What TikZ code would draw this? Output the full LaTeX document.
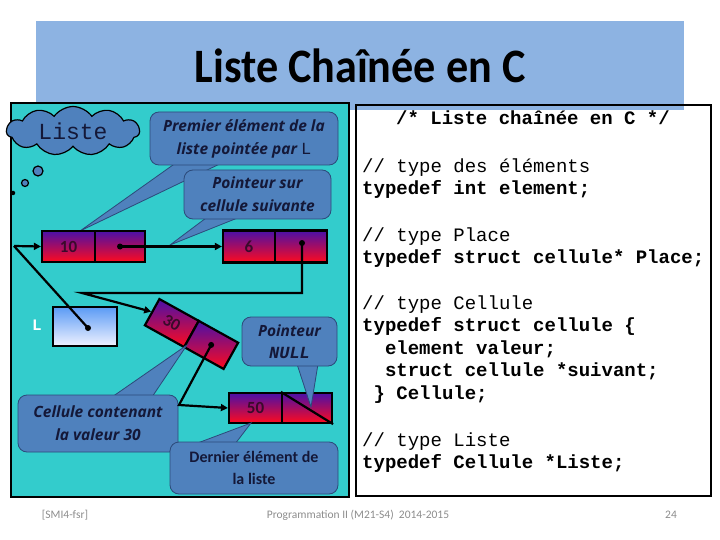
\documentclass[tikz,border=0pt]{standalone}
\usepackage{fontspec}
\usepackage{graphicx}
\setmainfont{Carlito}
\newfontfamily\calfont{Carlito}
\newfontfamily\callfont{Open Sans}
\setmonofont{Liberation Mono}
\usetikzlibrary{shapes.symbols,arrows.meta}
\definecolor{banner}{HTML}{8DB3E2}
\definecolor{panel}{HTML}{33CCCC}
\definecolor{callfill}{HTML}{4F81BD}
\definecolor{calldraw}{HTML}{2C4A7A}
\definecolor{calltext}{HTML}{141838}
\definecolor{celltop}{HTML}{4A10A8}
\definecolor{cellbot}{HTML}{FF0A1E}
\definecolor{celltext}{HTML}{3A0A2A}
\definecolor{footgray}{HTML}{8C8C8C}
\definecolor{Ltop}{HTML}{5B9BF5}
\definecolor{Lbot}{HTML}{F0F2FF}
\tikzset{
  cellbox/.style={draw=black, line width=2.2pt, top color=celltop, bottom color=cellbot,
    minimum height=31pt, inner sep=0pt, font=\calfont\bfseries\fontsize{17}{17}\selectfont, text=celltext},
  callout/.style={draw=calldraw, line width=0.8pt, fill=callfill, rounded corners=9pt,
    align=center, text=calltext, inner sep=0pt},
  itfont/.style={font=\callfont\bfseries\itshape\fontsize{15.5}{23}\selectfont},
  tail/.style={draw=calldraw, line width=0.8pt, fill=callfill},
  link/.style={line width=2.2pt, black},
  arr/.style={link, -{Triangle[length=7pt,width=7pt]}},
  ptdot/.style={circle, fill=black, inner sep=0pt, minimum size=6pt},
  codeline/.style={anchor=base west, inner sep=0pt, font=\ttfamily\fontsize{19}{19}\selectfont},
  codebold/.style={codeline, font=\ttfamily\bfseries\fontsize{19}{19}\selectfont},
  foot/.style={font=\calfont\fontsize{11.5}{11.5}\selectfont, text=footgray}
}
\begin{document}
\begin{tikzpicture}[x=1pt,y=1pt]
\useasboundingbox (0,0) rectangle (720,-540);
% banner and title
\fill[banner] (36,-21) rectangle (684,-110);
\node[font=\calfont\bfseries\fontsize{48}{48}\selectfont, inner sep=0pt] (title) at (360,-66)
  {\scalebox{0.92}[1]{Liste Chaînée en C}};
% right code box
\draw[line width=1.2pt] (356,-105) rectangle (711,-496);
% left panel
\draw[line width=2pt, fill=panel] (11,-103) rectangle (349,-497);

% cloud
\node[cloud, cloud puffs=11, cloud puff arc=110, aspect=2.7, draw=black, line width=1.2pt,
  fill=callfill, minimum width=133pt, minimum height=49pt, inner sep=0pt,
  font=\ttfamily\fontsize{23}{23}\selectfont, text=calltext] (cloud) at (73,-131) {Liste};
\node[circle, draw=black, line width=1.2pt, fill=callfill, minimum size=10pt, inner sep=0pt] (b1) at (38,-171) {};
\node[circle, draw=black, line width=1.2pt, fill=callfill, minimum size=7pt, inner sep=0pt] (b2) at (25,-183) {};
\node[circle, fill=black, minimum size=4.5pt, inner sep=0pt] (b3) at (13,-193) {};

% callout 1
\draw[tail] (180,-160) -- (80,-231) -- (228,-160) -- cycle;
\node[callout, itfont, minimum width=188pt, minimum height=53pt] (co1) at (244,-138.5)
  {Premier élément de la\\liste pointée par {\upshape\mdseries\ttfamily\fontsize{17}{17}\selectfont L}};
% callout 2
\draw[tail] (210,-215) -- (170,-245) -- (245,-215) -- cycle;
\node[callout, itfont, minimum width=147pt, minimum height=49pt] (co2) at (257.5,-194.5)
  {Pointeur sur\\cellule suivante};

% cells
\node[cellbox, minimum width=53pt] (c10v) at (68.5,-246.5) {10};
\node[cellbox, minimum width=50pt] (c10p) at (120,-246.5) {};
\node[cellbox, minimum width=52pt, minimum height=32pt] (c6v) at (249,-246.5) {6};
\node[cellbox, minimum width=52pt, minimum height=32pt] (c6p) at (301,-246.5) {};
\node[cellbox, minimum width=53pt, minimum height=30pt] (c50v) at (255.5,-408) {50};
\node[cellbox, minimum width=50pt, minimum height=30pt] (c50p) at (307,-408) {};
\draw[link] (c50p.north west) -- (c50p.south east);
\begin{scope}[shift={(191.5,-334)}, rotate=-29]
\node[cellbox, transform shape, minimum width=45pt, minimum height=30pt] (c30v) at (-22.5,0) {30};
\node[cellbox, transform shape, minimum width=45pt, minimum height=30pt] (c30p) at (22.5,0) {};
\end{scope}

% L box
\node[draw=black, line width=2pt, top color=Ltop, bottom color=Lbot, minimum width=64pt,
  minimum height=39pt, inner sep=0pt] (Lbox) at (85,-326.5) {};
\node[font=\ttfamily\bfseries\fontsize{16}{16}\selectfont, text=white, inner sep=0pt] (Llab) at (37,-325) {L};

% callout NULL
\draw[tail] (297,-364) -- (311,-407) -- (318,-364) -- cycle;
\node[callout, minimum width=95pt, minimum height=49pt, font=\callfont\bfseries\itshape\fontsize{15.5}{22}\selectfont] (co3) at (289.5,-341.5)
  {Pointeur\\{\ttfamily\bfseries\itshape\fontsize{17}{17}\selectfont NULL}};
% callout 4
\draw[tail] (112,-397) -- (187,-345) -- (152,-397) -- cycle;
\node[callout, itfont, minimum width=160pt, minimum height=57pt] (co4) at (98,-423.5)
  {Cellule contenant\\la valeur 30};
% callout 5
\draw[tail] (195,-444) -- (251,-423) -- (235,-444) -- cycle;
\node[callout, minimum width=168pt, minimum height=52pt, font=\calfont\bfseries\fontsize{16}{22}\selectfont] (co5) at (254,-468)
  {Dernier élément de\\la liste};

% pointer dots
\node[ptdot] (d10) at (c10p.center) {};
\node[ptdot] (d6) at (302,-243) {};
\node[ptdot] (d30) at (c30p.center) {};
\node[ptdot] (dL) at (88,-328) {};
\coordinate (jL) at (14,-246);
\coordinate (t6) at (82,-293);
\coordinate (k30) at (179,-405);

% links
\draw[arr] (d10.center) -- (c6v.west);
\draw[arr] (d6.center) |- (t6) -- (c30v.west);
\draw[arr] (d30.center) -- (k30) -- (c50v.west);
\draw[link] (dL.center) -- (jL);
\draw[arr] (jL) -- (c10v.west);

% code
\node[codebold, anchor=base] (l1) at (533,-125) {/* Liste chaînée en C */};
\node[codeline] (l2) at (362,-173) {// type des éléments};
\node[codebold] (l3) at (362,-195) {typedef int element;};
\node[codeline] (l4) at (362,-241) {// type Place};
\node[codebold] (l5) at (362,-263) {typedef struct cellule* Place;};
\node[codeline] (l6) at (362,-309) {// type Cellule};
\node[codebold] (l7) at (362,-331) {typedef struct cellule \{};
\node[codebold] (l8) at (384.8,-354) {element valeur;};
\node[codebold] (l9) at (384.8,-376) {struct cellule *suivant;};
\node[codebold] (l10) at (373.4,-399) {\} Cellule;};
\node[codeline] (l11) at (362,-446) {// type Liste};
\node[codebold] (l12) at (362,-468) {typedef Cellule *Liste;};

% footer
\node[foot] (f1) at (65,-515) {[SMI4-fsr]};
\node[foot] (f2) at (358,-515) {Programmation II (M21-S4)\ \ 2014-2015};
\node[foot] (f3) at (671,-515) {24};
\end{tikzpicture}
\end{document}
